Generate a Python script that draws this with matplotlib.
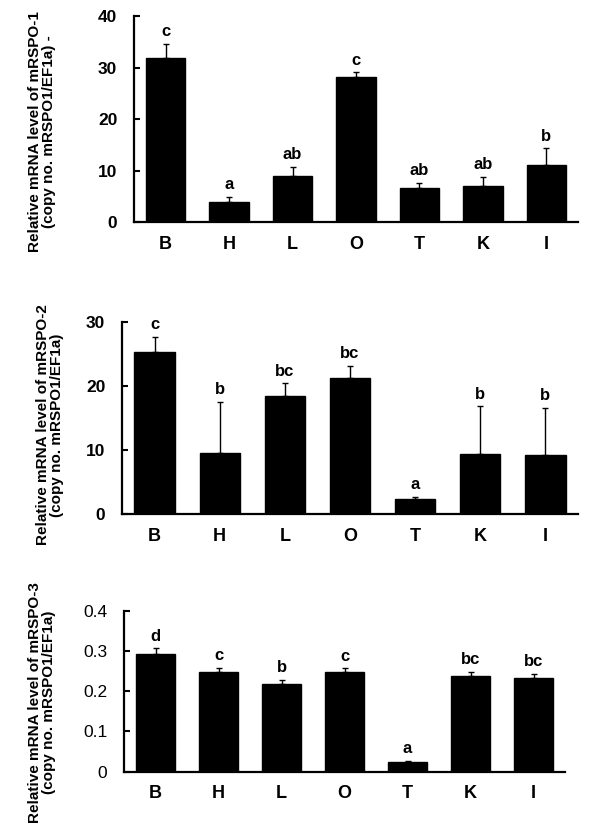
import matplotlib
matplotlib.use("Agg")
import matplotlib.pyplot as plt
import numpy as np

plt.rcParams['font.family'] = ['Liberation Sans', 'DejaVu Sans']

tissues = ["B", "H", "L", "O", "T", "K", "I"]

# mRSPO-1
rspo1 = [31.9, 3.8, 9.0, 28.2, 6.7, 6.9, 11.0]
rspo1_err = [2.6, 1.0, 1.7, 0.85, 0.9, 1.8, 3.3]
rspo1_sig = ["c", "a", "ab", "c", "ab", "ab", "b"]

# mRSPO-2
rspo2 = [25.3, 9.6, 18.4, 21.2, 2.4, 9.3, 9.2]
rspo2_err = [2.4, 7.9, 2.0, 2.0, 0.3, 7.5, 7.4]
rspo2_sig = ["c", "b", "bc", "bc", "a", "b", "b"]

# mRSPO-3
rspo3 = [0.294, 0.248, 0.219, 0.247, 0.025, 0.238, 0.234]
rspo3_err = [0.013, 0.011, 0.010, 0.010, 0.002, 0.010, 0.010]
rspo3_sig = ["d", "c", "b", "c", "a", "bc", "bc"]

fig = plt.figure(figsize=(6, 8.25), dpi=100)

panels = [
    # values, errors, letters, axes rect, ylim, yticks, bold ticks, ylabel, label pos
    (rspo1, rspo1_err, rspo1_sig, [0.2233, 0.7309, 0.74, 0.2497], 40, [0, 10, 20, 30, 40],
     True, "Relative mRNA level of mRSPO-1\n(copy no. mRSPO1/EF1a) -", (0.07, 0.84)),
    (rspo2, rspo2_err, rspo2_sig, [0.2033, 0.377, 0.76, 0.2327], 30, [0, 10, 20, 30],
     True, "Relative mRNA level of mRSPO-2\n(copy no. mRSPO1/EF1a)", (0.083, 0.485)),
    (rspo3, rspo3_err, rspo3_sig, [0.2067, 0.0648, 0.735, 0.1945], 0.4, [0, 0.1, 0.2, 0.3, 0.4],
     False, "Relative mRNA level of mRSPO-3\n(copy no. mRSPO1/EF1a)", (0.07, 0.149)),
]

x = np.arange(len(tissues))
for vals, errs, sig, rect, ymax, yt, boldticks, ylab, lpos in panels:
    ax = fig.add_axes(rect)
    ax.bar(x, vals, width=0.62, color="black", edgecolor="black", zorder=2)
    ax.errorbar(x, vals, yerr=[np.zeros(len(vals)), errs], fmt="none",
                ecolor="black", elinewidth=1.0, capsize=2.5, capthick=1.0, zorder=1)
    for xi, v, e, s in zip(x, vals, errs, sig):
        ax.annotate(s, (xi, v + e), xytext=(0, 3.5), textcoords="offset points",
                    ha="center", va="bottom", fontsize=12, fontweight="bold")
    ax.set_xlim(-0.5, 6.5)
    ax.set_ylim(0, ymax)
    ax.set_yticks(yt)
    ax.set_yticklabels([("%g" % t) for t in yt])
    ax.set_xticks(x)
    ax.set_xticklabels(tissues, fontsize=13, fontweight="bold")
    ax.tick_params(axis="x", length=0, pad=10)
    ax.tick_params(axis="y", direction="in", length=4, width=1.5, pad=12, labelsize=12.5)
    if boldticks:
        for t in ax.get_yticklabels():
            t.set_fontweight("bold")
    for sp in ["top", "right"]:
        ax.spines[sp].set_visible(False)
    for sp in ["left", "bottom"]:
        ax.spines[sp].set_linewidth(1.6)
    fig.text(lpos[0], lpos[1], ylab, rotation=90, ha="center", va="center",
             fontsize=11, fontweight="bold", linespacing=1.0, multialignment="center")

fig.savefig("out.png", dpi=100)
